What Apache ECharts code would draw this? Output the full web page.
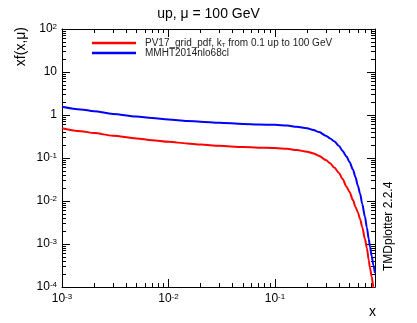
<!DOCTYPE html>
<html>
<head>
<meta charset="utf-8">
<script src="https://cdn.jsdelivr.net/npm/echarts@6/dist/echarts.min.js"></script>
</head>
<body style="margin:0">
<div id="chart" style="width:417px;height:323px"></div>
<script>
// x points and xf(x,mu)
const xValues = [0.001, 0.0015, 0.002, 0.003, 0.005, 0.007, 0.01, 0.015, 0.02, 0.03, 0.05, 0.07, 0.1, 0.13, 0.16, 0.2, 0.23, 0.26, 0.3, 0.33, 0.36, 0.4, 0.43, 0.47, 0.5, 0.54, 0.57, 0.6, 0.63, 0.66, 0.7, 0.73, 0.76, 0.78, 0.81, 0.84, 0.87]
const pv17Values = [0.49, 0.42, 0.38, 0.33, 0.285, 0.26, 0.238, 0.218, 0.205, 0.192, 0.180, 0.174, 0.170, 0.164, 0.153, 0.140, 0.128, 0.112, 0.090, 0.075, 0.060, 0.045, 0.033, 0.0215, 0.0165, 0.0105, 0.0073, 0.0055, 0.0038, 0.0025, 0.0013, 0.0008, 0.00042, 0.00028, 0.000174, 0.0001, 0.00005]
const mmhtValues = [1.55, 1.35, 1.22, 1.06, 0.92, 0.85, 0.79, 0.73, 0.70, 0.66, 0.62, 0.60, 0.59, 0.57, 0.53, 0.49, 0.447, 0.40, 0.33, 0.285, 0.245, 0.19, 0.148, 0.108, 0.082, 0.054, 0.036, 0.023, 0.015, 0.0085, 0.0043, 0.0024, 0.0013, 0.00087, 0.00052, 0.00032, 0.00021]
const seriesNames = ['PV17_grid_pdf, k_T from 0.1 up to 100 GeV', 'MMHT2014nlo68cl']

const xMin = 0.001
const xMax = 0.87
const yMin = 1e-4
const yMax = 100

function powLabel (v) {
  let e = Math.round(Math.log10(v))
  if (e === 0) return '1'
  if (e === 1) return '10'
  return '10{sup|' + e + '}'
}

const fontName = 'Liberation Sans'

// ROOT-style frame: ticks pointing inwards on all four sides
function makeAxis (kind, position, showLabel) {
  return {
    type: 'log',
    position: position,
    min: kind === 'x' ? xMin : yMin,
    max: kind === 'x' ? xMax : yMax,
    axisLine: { show: true, onZero: false, lineStyle: { color: '#000', width: 1 } },
    axisTick: { show: true, inside: true, length: 8, lineStyle: { color: '#000', width: 1 } },
    minorTick: { show: true, splitNumber: 9, length: 4, lineStyle: { color: '#000', width: 1 } },
    splitLine: { show: false },
    minorSplitLine: { show: false },
    axisLabel: {
      show: showLabel,
      showMaxLabel: kind !== 'x',
      formatter: powLabel,
      fontFamily: fontName,
      fontSize: 12,
      color: '#000',
      margin: kind === 'x' ? 6 : 5,
      rich: {
        sup: { fontSize: 8, fontFamily: fontName, color: '#000', verticalAlign: 'top', lineHeight: 8, padding: [0, 0, 7, 0] }
      }
    }
  }
}

let chart = echarts.init(document.getElementById('chart'))

chart.setOption({
  animation: false,
  title: {
    text: 'up, μ = 100 GeV',
    left: 'center',
    top: 2,
    textStyle: { fontFamily: fontName, fontSize: 14, fontWeight: 'normal', color: '#000' }
  },
  grid: { left: 62, right: 42, top: 29, bottom: 36 },
  legend: {
    orient: 'vertical',
    left: 92,
    top: 38,
    padding: 0,
    itemWidth: 44,
    itemHeight: 2.5,
    itemGap: 0,
    icon: 'rect',
    data: seriesNames,
    formatter: function (name) {
      return name.replace('k_T', 'k{sub|T}')
    },
    textStyle: {
      fontFamily: fontName,
      fontSize: 10,
      lineHeight: 10,
      color: '#222',
      padding: [0, 0, 0, 4],
      rich: {
        sub: { fontSize: 6, fontFamily: fontName, color: '#222', verticalAlign: 'bottom', lineHeight: 6, padding: [4, 0, 0, 0] }
      }
    }
  },
  xAxis: [makeAxis('x', 'bottom', true), makeAxis('x', 'top', false)],
  yAxis: [makeAxis('y', 'left', true), makeAxis('y', 'right', false)],
  graphic: [
    { type: 'text', x: 14, y: 27, rotation: Math.PI / 2, style: { text: 'xf(x,μ)', font: '14px "Liberation Sans"', fill: '#000', align: 'right', verticalAlign: 'top' } },
    { type: 'text', x: 376, y: 305, style: { text: 'x', font: '14px "Liberation Sans"', fill: '#000', align: 'right', verticalAlign: 'top' } },
    { type: 'text', x: 383, y: 271, rotation: Math.PI / 2, style: { text: 'TMDplotter 2.2.4', font: '12px "Liberation Sans"', fill: '#000', align: 'left', verticalAlign: 'top' } }
  ],
  series: [
    {
      name: seriesNames[0],
      type: 'line',
      xAxisIndex: 0,
      yAxisIndex: 0,
      smooth: 0.3,
      smoothMonotone: 'x',
      showSymbol: false,
      lineStyle: { color: '#ff0000', width: 2 },
      itemStyle: { color: '#ff0000' },
      data: xValues.map((x, i) => [x, pv17Values[i]])
    },
    {
      name: seriesNames[1],
      type: 'line',
      xAxisIndex: 0,
      yAxisIndex: 0,
      smooth: 0.3,
      smoothMonotone: 'x',
      showSymbol: false,
      lineStyle: { color: '#0000ff', width: 2 },
      itemStyle: { color: '#0000ff' },
      data: xValues.map((x, i) => [x, mmhtValues[i]])
    }
  ]
})
</script>
</body>
</html>
